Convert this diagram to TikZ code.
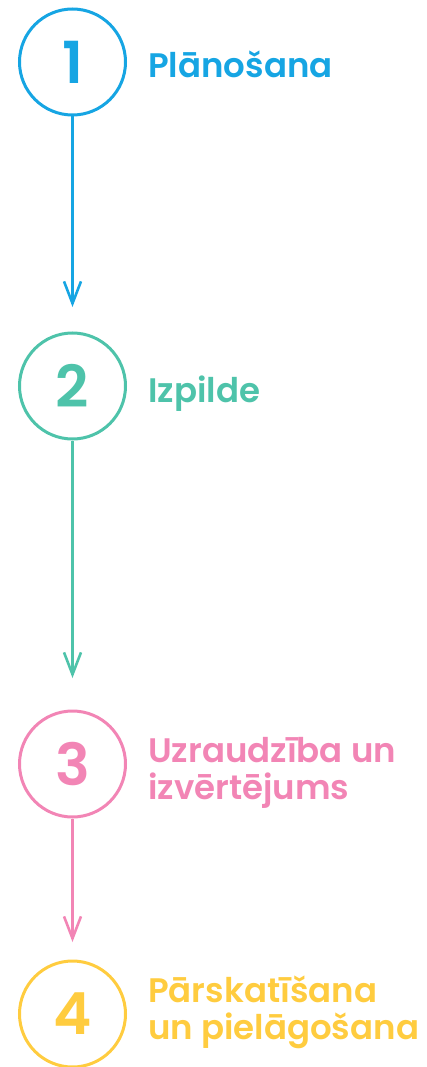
\documentclass[tikz,border=0pt]{standalone}
\usepackage{fontspec}
\setmainfont{Poppins}[BoldFont={Poppins SemiBold}]
\usetikzlibrary{arrows.meta}
\definecolor{cblue}{HTML}{16A5E3}
\definecolor{cteal}{HTML}{4EC3AA}
\definecolor{cpink}{HTML}{F285B5}
\definecolor{cyellow}{HTML}{FFCC3F}
\begin{document}
\begin{tikzpicture}[x=1pt,y=-1pt,
  stepcircle/.style={circle,draw=#1,line width=3pt,minimum size=106pt,inner sep=0pt,
    text=#1,font=\fontsize{58}{58}\selectfont\bfseries},
  steplabel/.style={anchor=base west,inner sep=0pt,text=#1,align=left,
    font=\fontsize{34}{36.5}\selectfont\bfseries},
  flow/.style={draw=#1,line width=2.4pt,-{Straight Barb[length=22pt,width=17pt,line width=2.6pt]}}]
\useasboundingbox (0,0) rectangle (427,1067);
\node[stepcircle=cblue] (c1) at (72.5,62) {1};
\node[stepcircle=cteal] (c2) at (72.5,386) {2};
\node[stepcircle=cpink] (c3) at (72.5,764) {3};
\node[stepcircle=cyellow] (c4) at (72.5,1014) {4};
\node[steplabel=cblue] (t1) at (148,78) {Plānošana};
\node[steplabel=cteal] (t2) at (148,402) {Izpilde};
\node[steplabel=cpink] (t3) at (148,799) {Uzraudzība un\\izvērtējums};
\node[steplabel=cyellow] (t4) at (148,1039) {Pārskatīšana\\un pielāgošana};
\coordinate (e1) at (72.5,307);
\coordinate (e2) at (72.5,678);
\coordinate (e3) at (72.5,942);
\draw[flow=cblue] (c1.south) -- (e1);
\draw[flow=cteal] (c2.south) -- (e2);
\draw[flow=cpink] (c3.south) -- (e3);
\end{tikzpicture}
\end{document}
